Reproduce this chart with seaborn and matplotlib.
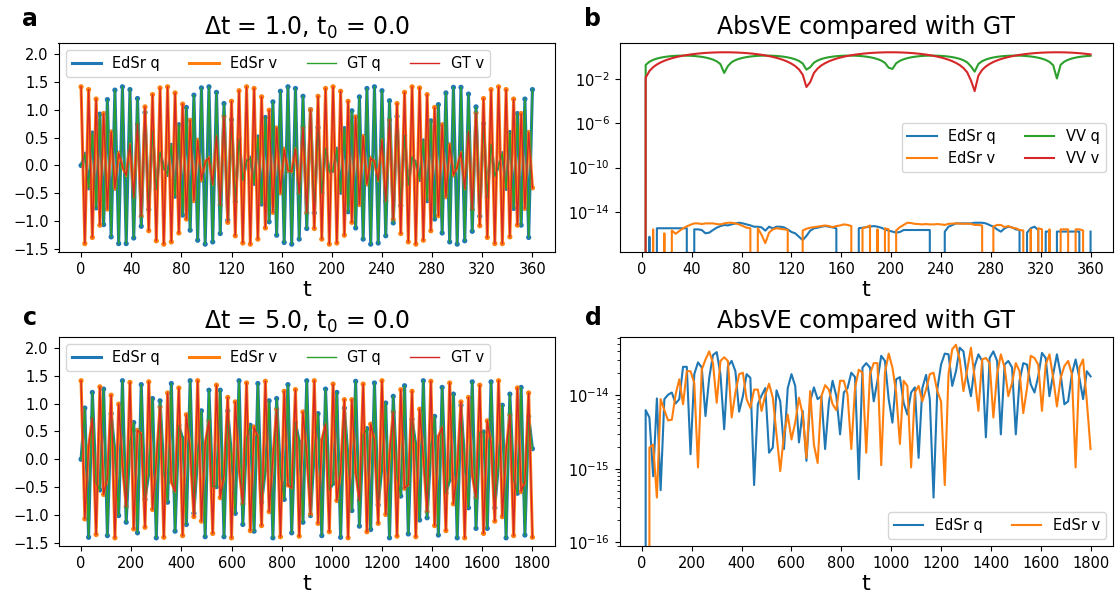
import numpy as np
import matplotlib
matplotlib.use("Agg")
import matplotlib.pyplot as plt
from matplotlib.ticker import NullLocator
import seaborn as sns

# ---------------- data ----------------
# panel a: dt = 1.0, samples every 3 time units (t = 0..360)
t_a_step = 3
q_a = [0.00, 0.20, -0.40, 0.58, -0.76, 0.92, -1.06, 1.18, -1.28, 1.35,
       -1.40, 1.41, -1.40, 1.36, -1.30, 1.20, -1.09, 0.95, -0.79, 0.62,
       -0.43, 0.24, -0.04, -0.16, 0.36, -0.55, 0.73, -0.89, 1.04, -1.16,
       1.26, -1.34, 1.39, -1.41, 1.41, -1.37, 1.31, -1.22, 1.11, -0.98,
       0.82, -0.65, 0.47, -0.27, 0.08, 0.13, -0.32, 0.51, -0.69, 0.86,
       -1.01, 1.14, -1.25, 1.33, -1.38, 1.41, -1.41, 1.38, -1.32, 1.24,
       -1.13, 1.00, -0.85, 0.68, -0.50, 0.31, -0.11, -0.09, 0.29, -0.48,
       0.66, -0.83, 0.98, -1.12, 1.23, -1.32, 1.38, -1.41, 1.41, -1.39,
       1.34, -1.26, 1.16, -1.03, 0.88, -0.72, 0.54, -0.35, 0.15, 0.05,
       -0.25, 0.44, -0.63, 0.80, -0.96, 1.09, -1.21, 1.30, -1.37, 1.40,
       -1.41, 1.40, -1.35, 1.28, -1.18, 1.05, -0.91, 0.75, -0.57, 0.38,
       -0.19, -0.01, 0.21, -0.41, 0.59, -0.77, 0.93, -1.07, 1.19, -1.29,
       1.36]
v_a = [1.41, -1.40, 1.36, -1.29, 1.19, -1.07, 0.93, -0.78, 0.60, -0.41,
       0.22, -0.02, -0.18, 0.38, -0.57, 0.74, -0.91, 1.05, -1.17, 1.27,
       -1.35, 1.39, -1.41, 1.41, -1.37, 1.30, -1.21, 1.10, -0.96, 0.81,
       -0.63, 0.45, -0.26, 0.06, 0.14, -0.34, 0.53, -0.71, 0.88, -1.02,
       1.15, -1.26, 1.34, -1.39, 1.41, -1.41, 1.38, -1.32, 1.23, -1.12,
       0.99, -0.84, 0.67, -0.49, 0.29, -0.09, -0.11, 0.30, -0.50, 0.68,
       -0.85, 1.00, -1.13, 1.24, -1.32, 1.38, -1.41, 1.41, -1.39, 1.33,
       -1.25, 1.15, -1.02, 0.87, -0.70, 0.52, -0.33, 0.13, 0.07, -0.27,
       0.46, -0.64, 0.82, -0.97, 1.11, -1.22, 1.31, -1.37, 1.41, -1.41,
       1.39, -1.34, 1.27, -1.17, 1.04, -0.90, 0.73, -0.56, 0.37, -0.17,
       -0.03, 0.23, -0.42, 0.61, -0.79, 0.94, -1.08, 1.20, -1.29, 1.36,
       -1.40, 1.41, -1.40, 1.36, -1.28, 1.19, -1.07, 0.93, -0.77, 0.59,
       -0.40]

# panel b: absolute errors vs GT (log10 exponent, None = exactly zero)
b_edsr_q_exp = [None, None, -16.27, None, -15.5, -15.5, -15.5, -15.5, -15.5, -15.5,
                -15.5, -15.5, -15.5, None, -15.6, -15.6, -15.66, -15.96, -15.9, -15.66,
                -15.45, -15.3, -15.21, -15.24, -15.15, -15.06, -15.0, -15.06, -15.15, -15.24,
                -15.36, -15.36, -15.42, -15.72, -15.36, -15.51, -15.36, -15.36, -15.42, -15.6,
                -15.84, -15.96, -16.27, -16.57, -16.2, -15.72, -15.51, -15.45, -15.36, -15.3,
                -15.36, -15.42, -15.51, None, None, None, None, None, -15.5, -15.45,
                -15.4, -15.36, -15.3, -15.36, -15.45, -15.6, -15.72, -15.8, -15.9, -15.84,
                -15.66, -15.66, -15.66, -15.66, -15.66, -15.66, -15.66, -15.66, None, None,
                None, -15.81, -15.36, -15.21, -15.06, -15.06, -15.06, -15.06, -15.06, -15.0,
                -15.0, -15.0, -15.06, -15.21, -15.36, -15.6, -15.81, -15.51, -15.36, -15.42,
                -15.6, -15.66, None, -15.9, -15.5, -15.36, -15.66, None, -15.8, -15.8,
                None, -15.8, -15.8, -15.8, -15.8, -15.8, -15.8, -15.8, None, None,
                -15.8]
b_edsr_v_exp = [None, None, None, -15.6, None, None, -15.96, None, -15.7, -16.0,
                -15.75, -15.5, -15.33, -15.18, -15.06, -15.06, -15.12, -15.06, -15.06, -15.06,
                -15.12, -15.15, -15.06, -15.0, -15.0, -15.06, -15.15, -15.3, -15.45, -15.5,
                None, -15.5, -16.1, -16.85, -15.9, -15.6, -15.5, -15.55, -15.6, -15.65,
                None, None, None, -15.7, -15.55, -15.45, -15.4, -15.35, -15.3, -15.25,
                -15.3, -15.4, -15.3, -15.25, -15.15, -15.2, -15.3, None, None, -15.5,
                -15.4, -15.25, None, -15.6, None, -15.5, -15.6, None, -15.7, -15.4,
                -15.2, -15.0, -15.03, -15.1, -15.12, -15.15, -15.12, -15.15, -15.15, -15.12,
                -15.15, -15.2, -15.1, -15.08, -15.06, -15.08, -15.1, -15.08, -15.1, -15.2,
                -15.2, -15.25, None, None, -15.35, -15.2, -15.2, -15.4, -15.3, -15.45,
                -15.5, -15.66, -15.7, None, -15.6, None, -15.5, -15.6, None, -15.6,
                None, None, -15.6, -15.6, -15.6, None, -15.6, -15.6, -15.7, None,
                None]
b_vv_q = [0.0, 0.200, 0.395, 0.583, 0.759, 0.920, 1.062, 1.183, 1.281, 1.353,
          1.397, 1.414, 1.403, 1.363, 1.296, 1.203, 1.087, 0.948, 0.790, 0.617,
          0.431, 0.237, 0.0378, 0.162, 0.359, 0.548, 0.727, 0.891, 1.037, 1.162,
          1.264, 1.341, 1.391, 1.413, 1.407, 1.373, 1.311, 1.223, 1.110, 0.976,
          0.821, 0.651, 0.467, 0.274, 0.0752, 0.125, 0.322, 0.513, 0.694, 0.861,
          1.011, 1.140, 1.247, 1.329, 1.384, 1.411, 1.410, 1.381, 1.324, 1.241,
          1.133, 1.003, 0.852, 0.684, 0.502, 0.311, 0.113, 0.0871, 0.285, 0.478,
          0.661, 0.831, 0.984, 1.118, 1.229, 1.315, 1.375, 1.408, 1.413, 1.389,
          1.337, 1.259, 1.156, 1.029, 0.881, 0.717, 0.537, 0.347, 0.150, 0.0494,
          0.248, 0.442, 0.627, 0.800, 0.957, 1.094, 1.210, 1.301, 1.366, 1.404,
          1.414, 1.395, 1.349, 1.276, 1.177, 1.054, 0.911, 0.749, 0.572, 0.384,
          0.188, 0.0119, 0.211, 0.406, 0.593, 0.769, 0.929, 1.070, 1.190, 1.286,
          1.356]
b_vv_v = [0.0, 0.01415, 0.0563, 0.1257, 0.2206, 0.340, 0.480, 0.639, 0.814, 1.001,
          1.196, 1.395, 1.595, 1.791, 1.980, 2.157, 2.319, 2.463, 2.587, 2.687,
          2.761, 2.808, 2.828, 2.819, 2.782, 2.718, 2.627, 2.512, 2.376, 2.220,
          2.048, 1.863, 1.669, 1.471, 1.271, 1.074, 0.883, 0.703, 0.538, 0.390,
          0.263, 0.1586, 0.0794, 0.0267, 0.00202, 0.00551, 0.0373, 0.0964, 0.1822, 0.292,
          0.425, 0.577, 0.747, 0.929, 1.122, 1.320, 1.520, 1.718, 1.910, 2.092,
          2.260, 2.411, 2.543, 2.652, 2.736, 2.794, 2.824, 2.826, 2.799, 2.745,
          2.664, 2.559, 2.430, 2.281, 2.114, 1.934, 1.743, 1.546, 1.346, 1.147,
          0.954, 0.770, 0.599, 0.444, 0.308, 0.1949, 0.1060, 0.0433, 0.0080, 0.00086,
          0.0220, 0.0710, 0.1468, 0.248, 0.373, 0.518, 0.681, 0.859, 1.048, 1.245,
          1.445, 1.644, 1.838, 2.025, 2.199, 2.357, 2.496, 2.614, 2.707, 2.775,
          2.816, 2.828, 2.812, 2.769, 2.698, 2.601, 2.481, 2.339, 2.179, 2.003,
          1.816]

# panel c: dt = 5.0, samples every 15 time units (t = 0..1800)
t_c_step = 15
q_c = [0.00, 0.92, -1.40, 1.20, -0.43, -0.55, 1.26, -1.37, 0.82, 0.13,
       -1.01, 1.41, -1.13, 0.31, 0.66, -1.32, 1.34, -0.72, -0.25, 1.09,
       -1.41, 1.05, -0.19, -0.77, 1.36, -1.29, 0.61, 0.37, -1.17, 1.41,
       -0.97, 0.06, 0.87, -1.39, 1.24, -0.49, -0.49, 1.24, -1.39, 0.87,
       0.06, -0.97, 1.41, -1.17, 0.37, 0.61, -1.29, 1.36, -0.77, -0.19,
       1.05, -1.41, 1.09, -0.25, -0.72, 1.34, -1.32, 0.66, 0.31, -1.13,
       1.41, -1.01, 0.13, 0.82, -1.37, 1.26, -0.55, -0.43, 1.20, -1.40,
       0.92, 0.00, -0.92, 1.40, -1.20, 0.43, 0.55, -1.26, 1.37, -0.82,
       -0.13, 1.01, -1.41, 1.13, -0.31, -0.66, 1.32, -1.34, 0.72, 0.25,
       -1.09, 1.41, -1.05, 0.19, 0.77, -1.36, 1.29, -0.61, -0.37, 1.17,
       -1.41, 0.97, -0.06, -0.87, 1.39, -1.24, 0.49, 0.49, -1.24, 1.39,
       -0.87, -0.06, 0.97, -1.41, 1.17, -0.37, -0.61, 1.29, -1.36, 0.77,
       0.19]
v_c = [1.41, -1.07, 0.22, 0.74, -1.35, 1.30, -0.63, -0.34, 1.15, -1.41,
       0.99, -0.09, -0.85, 1.38, -1.25, 0.52, 0.46, -1.22, 1.39, -0.90,
       -0.03, 0.94, -1.40, 1.19, -0.40, -0.58, 1.28, -1.37, 0.80, 0.16,
       -1.03, 1.41, -1.11, 0.28, 0.69, -1.33, 1.33, -0.69, -0.28, 1.11,
       -1.41, 1.03, -0.16, -0.80, 1.37, -1.28, 0.58, 0.40, -1.19, 1.40,
       -0.94, 0.03, 0.90, -1.39, 1.22, -0.46, -0.52, 1.25, -1.38, 0.85,
       0.09, -0.99, 1.41, -1.15, 0.34, 0.63, -1.30, 1.35, -0.74, -0.22,
       1.07, -1.41, 1.07, -0.22, -0.74, 1.35, -1.30, 0.63, 0.34, -1.15,
       1.41, -0.99, 0.09, 0.85, -1.38, 1.25, -0.52, -0.46, 1.22, -1.39,
       0.90, 0.03, -0.94, 1.40, -1.19, 0.40, 0.58, -1.28, 1.37, -0.80,
       -0.16, 1.03, -1.41, 1.11, -0.28, -0.69, 1.33, -1.33, 0.69, 0.28,
       -1.11, 1.41, -1.03, 0.16, 0.80, -1.37, 1.28, -0.58, -0.40, 1.19,
       -1.40]

# panel d: absolute errors vs GT (log10 exponent, None = exactly zero)
d_edsr_q_exp = [None, -14.20, -14.30, -15.10, -14.04, -15.29, -14.05, -13.99, -13.96, -14.11,
                -14.05, -13.61, -13.61, -14.80, -13.71, -13.55, -13.62, -14.28, -13.76, -13.45,
                -13.41, -13.71, -14.46, -13.60, -13.53, -13.67, -14.22, -14.01, -13.71, -13.76,
                -15.22, -14.12, -14.00, -13.90, -14.78, -14.71, -13.93, -14.08, -14.73, -13.90,
                -13.71, -13.87, -14.64, -14.21, -14.89, -14.08, -13.89, -14.05, -14.01, -14.73,
                -14.10, -13.80, -14.01, -14.53, -13.96, -13.90, -13.69, -13.75, -15.14, -13.62,
                -13.56, -13.62, -14.08, -13.80, -13.46, -13.53, -14.05, -14.37, -13.78, -13.75,
                -14.10, -14.26, -13.96, -13.89, -14.85, -13.90, -13.72, -14.05, -15.39, -13.92,
                -13.58, -13.43, -13.44, -13.87, -13.67, -13.35, -13.40, -13.76, -14.01, -13.60,
                -13.44, -13.53, -14.57, -13.49, -13.40, -13.53, -14.53, -13.58, -13.53, -13.62,
                -14.53, -13.80, -13.56, -13.58, -13.85, -13.96, -13.74, -13.42, -13.49, -14.01,
                -13.71, -13.44, -13.71, -14.12, -14.08, -13.71, -13.51, -13.76, -14.05, -13.67,
                -13.74]
d_edsr_v_exp = [None, None, -14.71, -14.67, -15.39, -14.05, -14.20, -14.34, -14.33, -13.99,
                -13.78, -14.12, -13.67, -13.67, -13.83, -14.98, -13.65, -13.51, -13.40, -13.56,
                -14.10, -13.53, -13.48, -13.53, -14.30, -13.96, -13.71, -13.69, -14.05, -14.17,
                -13.92, -13.92, -14.21, -13.99, -13.84, -14.03, -14.53, -15.03, -14.53, -14.26,
                -14.60, -14.37, -14.03, -14.26, -14.85, -13.94, -14.67, -14.92, -14.01, -13.86,
                -13.92, -14.12, -14.20, -13.80, -13.80, -13.99, -14.73, -13.90, -13.65, -13.69,
                -14.78, -13.71, -13.56, -13.56, -14.95, -13.69, -13.43, -13.62, -13.96, -14.66,
                -13.80, -13.87, -14.98, -13.96, -13.87, -14.08, -13.92, -13.71, -13.69, -13.94,
                -14.08, -15.22, -13.71, -13.37, -13.31, -13.51, -13.94, -13.65, -13.35, -13.76,
                -14.21, -13.51, -13.49, -13.56, -14.30, -13.71, -13.44, -13.62, -14.01, -13.83,
                -13.56, -13.67, -14.24, -13.90, -13.46, -13.49, -13.58, -14.21, -13.58, -13.44,
                -13.76, -14.15, -13.76, -13.60, -13.53, -13.71, -14.98, -13.62, -13.51, -14.08,
                -14.73]

xticks_a = [0, 40, 80, 120, 160, 200, 240, 280, 320, 360]
xticks_c = [0, 200, 400, 600, 800, 1000, 1200, 1400, 1600, 1800]
yticks_traj = [-1.5, -1.0, -0.5, 0.0, 0.5, 1.0, 1.5, 2.0]
yticks_b = [1e-14, 1e-10, 1e-6, 1e-2]


def from_exp(e):
    return np.array([0.0 if x is None else 10.0 ** x for x in e])


t_a = np.arange(len(q_a)) * t_a_step
t_c = np.arange(len(q_c)) * t_c_step

plt.rcParams["font.size"] = 10.5
C = sns.color_palette("tab10")

W, H = 1115, 597
fig = plt.figure(figsize=(W / 100, H / 100), dpi=100)


def px_axes(x0, y0, x1, y1):
    return fig.add_axes([x0 / W, 1 - y1 / H, (x1 - x0) / W, (y1 - y0) / H])


ax_a = px_axes(58.5, 42.7, 555.0, 252.3)
ax_b = px_axes(619.5, 42.7, 1113.0, 252.3)
ax_c = px_axes(58.5, 336.7, 555.0, 546.0)
ax_d = px_axes(619.5, 336.7, 1113.0, 546.0)

TITLE_FS = 17
LABEL_FS = 16


def traj_panel(ax, t, q, v, xticks, title):
    sns.lineplot(x=t, y=q, ax=ax, color=C[0], linewidth=2.2, label="EdSr q")
    sns.scatterplot(x=t, y=q, ax=ax, color=C[0], s=14, edgecolor="none", legend=False)
    sns.lineplot(x=t, y=v, ax=ax, color=C[1], linewidth=2.2, label="EdSr v")
    sns.scatterplot(x=t, y=v, ax=ax, color=C[1], s=14, edgecolor="none", legend=False)
    sns.lineplot(x=t, y=q, ax=ax, color=C[2], linewidth=1.0, label="GT q")
    sns.lineplot(x=t, y=v, ax=ax, color=C[3], linewidth=1.0, label="GT v")
    ax.set_xticks(xticks)
    ax.set_yticks(yticks_traj)
    ax.set_ylim(-1.556, 2.2)
    ax.set_title(title, fontsize=TITLE_FS)
    ax.set_xlabel("t", fontsize=LABEL_FS, labelpad=2.5)
    ax.set_ylabel("")
    ax.legend(ncol=4, loc="upper left")


traj_panel(ax_a, t_a, q_a, v_a, xticks_a, "\u0394t = 1.0, t$_0$ = 0.0")
traj_panel(ax_c, t_c, q_c, v_c, xticks_c, "\u0394t = 5.0, t$_0$ = 0.0")

# panel b
sns.lineplot(x=t_a, y=from_exp(b_edsr_q_exp), ax=ax_b, color=C[0], linewidth=1.5, label="EdSr q")
sns.lineplot(x=t_a, y=from_exp(b_edsr_v_exp), ax=ax_b, color=C[1], linewidth=1.5, label="EdSr v")
sns.lineplot(x=t_a, y=np.array(b_vv_q), ax=ax_b, color=C[2], linewidth=1.5, label="VV q")
sns.lineplot(x=t_a, y=np.array(b_vv_v), ax=ax_b, color=C[3], linewidth=1.5, label="VV v")
ax_b.set_yscale("log")
ax_b.set_ylim(10 ** -17.68, 10 ** 1.32)
ax_b.set_yticks(yticks_b)
ax_b.yaxis.set_minor_locator(NullLocator())
ax_b.set_xticks(xticks_a)
ax_b.set_title("AbsVE compared with GT", fontsize=TITLE_FS)
ax_b.set_xlabel("t", fontsize=LABEL_FS, labelpad=2.5)
ax_b.set_ylabel("")
ax_b.legend(ncol=2, loc="center right")

# panel d
sns.lineplot(x=t_c, y=from_exp(d_edsr_q_exp), ax=ax_d, color=C[0], linewidth=1.5, label="EdSr q")
sns.lineplot(x=t_c, y=from_exp(d_edsr_v_exp), ax=ax_d, color=C[1], linewidth=1.5, label="EdSr v")
ax_d.set_yscale("log")
ax_d.set_ylim(10 ** -16.05, 10 ** -13.2)
ax_d.set_xticks(xticks_c)
ax_d.set_title("AbsVE compared with GT", fontsize=TITLE_FS)
ax_d.set_xlabel("t", fontsize=LABEL_FS, labelpad=2.5)
ax_d.set_ylabel("")
ax_d.legend(ncol=2, loc="lower right")

for txt, x, y in (("a", 30, 19), ("b", 593, 19), ("c", 30, 318), ("d", 593, 318)):
    fig.text(x / W, 1 - y / H, txt, ha="center", va="center", fontsize=17, fontweight="bold")

fig.savefig("out.png", dpi=100)
